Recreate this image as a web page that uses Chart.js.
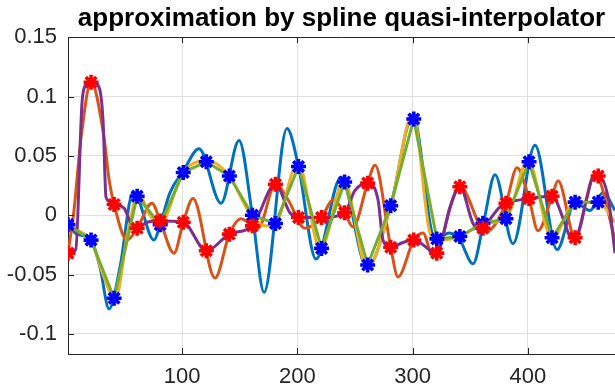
<!DOCTYPE html>
<html>
<head>
<meta charset="utf-8">
<script src="https://cdn.jsdelivr.net/npm/chart.js@4.4.1/dist/chart.umd.min.js"></script>
<style>
html,body{margin:0;padding:0;background:#fff;overflow:hidden;}
canvas{display:block;}
</style>
</head>
<body>
<canvas id="c" width="615" height="387"></canvas>
<script>
// ---- data ----
const titleText = 'approximation by spline quasi-interpolator';
const xTicks = [100, 200, 300, 400];
const yTicks = [-0.1, -0.05, 0, 0.05, 0.1, 0.15];

// sample positions of the markers
const markerX = [1, 21, 41, 61, 81, 101, 121, 141, 161, 181, 201, 221, 241, 261, 281, 301, 321, 341, 361, 381, 401, 421, 441, 461];
// blue asterisks (also the vertices of the green polyline)
const blueMarkers = [-0.008, -0.021, -0.070, 0.016, -0.008, 0.036, 0.045, 0.033, 0.000, -0.007, 0.041, -0.028,
                     0.028, -0.042, 0.008, 0.081, -0.020, -0.018, -0.007, -0.003, 0.045, -0.019, 0.011, 0.011];
// red asterisks
const redMarkers = [-0.032, 0.112, 0.009, -0.011, -0.005, -0.006, -0.030, -0.016, -0.009, 0.026, -0.002, -0.002,
                    0.002, 0.027, -0.027, -0.021, -0.032, 0.024, -0.011, 0.010, 0.014, 0.016, -0.019, 0.033];

// blue smooth curve
const blueCurveX = [1, 8.8, 21, 28.8, 36.6, 46.1, 57.4, 61, 75.6, 81, 89.5, 101, 114.7, 133.8, 149.4, 161, 171.1, 191.0, 201,
                    216.2, 237.9, 241, 260.5, 281, 300.3, 316.8, 321, 331.6, 341, 352.4, 362, 371.5, 387.1, 406.2, 425.3,
                    441, 453.9, 465.2, 475.6];
const blueCurveY = [-0.008, -0.016, -0.021, -0.044, -0.079, -0.044, 0.019, 0.016, -0.021, -0.008, 0.019, 0.037, 0.056, 0.010,
                    0.063, 0.000, -0.065, 0.073, 0.041, -0.037, 0.032, 0.028, -0.044, 0.008, 0.084, -0.015, -0.020, -0.015,
                    -0.021, -0.041, -0.004, 0.034, -0.024, 0.059, -0.029, 0.011, 0.004, 0.019, 0.004];

// orange smooth curve
const orangeCurveX = [1, 6.2, 12.3, 21, 32.2, 36.6, 41, 52.2, 61, 73.9, 81, 93, 101, 109.5, 128.5, 141, 151.1, 161, 165.9,
                      181, 191.9, 206.6, 221, 230.9, 241, 248.3, 261, 267.4, 281, 287.3, 301, 309, 317.7, 321, 341, 363.5,
                      381, 390.6, 401, 408.8, 421, 426.2, 441, 458.3, 461, 475.6];
const orangeCurveY = [-0.032, 0.004, 0.065, 0.112, 0.066, 0.030, 0.009, -0.021, -0.011, 0.010, -0.005, -0.032, -0.006, 0.014,
                      -0.053, -0.016, -0.003, -0.009, -0.011, 0.026, 0.013, -0.011, -0.002, 0.013, 0.002, -0.010, 0.027,
                      0.042, -0.027, -0.052, -0.021, -0.015, -0.035, -0.032, 0.024, -0.014, 0.010, 0.040, 0.014, -0.013,
                      0.016, 0.029, -0.019, 0.035, 0.033, -0.021];

// yellow smooth curve
const yellowCurveX = [1, 11.4, 21, 31.4, 42, 53.1, 62, 72.1, 80, 101, 121, 141, 157.2, 161, 171.1, 181, 200.6, 220, 240.5,
                      260.5, 281, 300.3, 315.1, 322, 341, 361, 381, 400.1, 421, 441, 461, 475.6];
const yellowCurveY = [-0.008, -0.014, -0.021, -0.050, -0.071, -0.013, 0.018, 0.000, -0.009, 0.036, 0.046, 0.033, 0.004, 0.000,
                      -0.009, -0.007, 0.044, -0.029, 0.029, -0.044, 0.008, 0.085, -0.015, -0.021, -0.018, -0.007, -0.003,
                      0.046, -0.020, 0.011, 0.011, -0.006];

// purple smooth curve
const purpleCurveX = [1, 7.7, 13.1, 15.8, 21, 27.9, 31.4, 34.0, 38.3, 41, 49.6, 55.7, 61, 69.5, 81, 101, 121, 141, 161, 181,
                      193.6, 201, 221, 241, 250, 261, 270, 274.3, 281, 291.7, 301, 321, 332.5, 341, 352.4, 358.5, 361,
                      375.8, 381, 401, 421, 432.2, 436.6, 441, 451.3, 456.5, 461, 469.6, 475.6];
const purpleCurveY = [-0.032, -0.029, 0.094, 0.109, 0.113, 0.108, 0.080, 0.015, 0.011, 0.009, 0.006, -0.007, -0.011, -0.006,
                      -0.005, -0.006, -0.030, -0.016, -0.009, 0.026, 0.002, -0.002, -0.002, 0.002, 0.021, 0.027, 0.013,
                      -0.021, -0.027, -0.023, -0.021, -0.032, 0.007, 0.024, -0.007, -0.013, -0.011, 0.007, 0.010, 0.014,
                      0.016, -0.007, -0.018, -0.019, 0.015, 0.032, 0.033, 0.015, -0.032];

const xMin = 1, xMax = 475.6, yMin = -0.117, yMax = 0.15;

// ---- helpers ----
const pts = (xs, ys) => xs.map((x, i) => ({x: x, y: ys[i]}));

const frame = {
  id: 'frame',
  afterDatasetsDraw(chart) {
    const {ctx, chartArea: a, scales} = chart;
    const sx = scales.x, sy = scales.y;
    ctx.save();
    ctx.strokeStyle = '#262626';
    ctx.lineWidth = 1;
    ctx.beginPath();
    const top = Math.round(a.top) + 0.5;
    ctx.moveTo(a.left, top); ctx.lineTo(a.right, top);
    xTicks.forEach(v => {
      const p = Math.round(sx.getPixelForValue(v)) + 0.5;
      ctx.moveTo(p, a.bottom); ctx.lineTo(p, a.bottom - 6);
      ctx.moveTo(p, a.top); ctx.lineTo(p, a.top + 6);
    });
    yTicks.forEach(v => {
      const p = Math.round(sy.getPixelForValue(v)) + 0.5;
      ctx.moveTo(a.left, p); ctx.lineTo(a.left + 6, p);
    });
    ctx.stroke();
    ctx.restore();
  }
};

const lineDs = (label, xs, ys, color, order, mono) => ({
  label: label,
  data: pts(xs, ys),
  borderColor: color,
  backgroundColor: color,
  borderWidth: 3,
  pointRadius: 0,
  fill: false,
  cubicInterpolationMode: mono ? 'monotone' : 'default',
  tension: 0,
  order: order
});

const markerDs = (label, ys, color, order) => ({
  label: label,
  data: pts(markerX, ys),
  showLine: false,
  borderColor: color,
  backgroundColor: color,
  pointStyle: 'star',
  pointRadius: 7.5,
  pointBorderWidth: 3.6,
  order: order
});

new Chart(document.getElementById('c'), {
  type: 'line',
  data: {
    datasets: [
      markerDs('red samples', redMarkers, '#ff0000', 0),
      markerDs('blue samples', blueMarkers, '#0000ff', 1),
      lineDs('linear', markerX, blueMarkers, '#77AC30', 2, false),
      lineDs('purple', purpleCurveX, purpleCurveY, '#7E2F8E', 3, true),
      lineDs('yellow', yellowCurveX, yellowCurveY, '#EDB120', 4, true),
      lineDs('orange', orangeCurveX, orangeCurveY, '#D95319', 5, true),
      lineDs('blue', blueCurveX, blueCurveY, '#0072BD', 6, true)
    ]
  },
  plugins: [frame],
  options: {
    responsive: false,
    devicePixelRatio: 1,
    animation: false,
    layout: { padding: 0, autoPadding: false },
    plugins: {
      legend: { display: false },
      tooltip: { enabled: false },
      title: {
        display: true,
        text: titleText,
        fullSize: false,
        color: '#000',
        font: { family: "'Liberation Sans', Arial, sans-serif", size: 26, weight: 'bold', lineHeight: 1.2 },
        padding: { top: 3, bottom: 3 }
      }
    },
    scales: {
      x: {
        type: 'linear',
        min: xMin, max: xMax,
        afterBuildTicks: s => { s.ticks = xTicks.map(v => ({value: v})); },
        afterFit: s => { s.height = 33; s.paddingLeft = 0; s.paddingRight = 0; },
        grid: { color: '#dfdfdf', lineWidth: 1, drawTicks: false },
        border: { display: true, color: '#262626', width: 1 },
        ticks: {
          padding: 10,
          color: '#262626',
          font: { family: "'Liberation Sans', Arial, sans-serif", size: 22 },
          callback: v => String(v),
          maxRotation: 0
        }
      },
      y: {
        type: 'linear',
        min: yMin, max: yMax,
        afterBuildTicks: s => { s.ticks = yTicks.map(v => ({value: v})); },
        afterFit: s => { s.width = 68; s.paddingTop = 0; s.paddingBottom = 0; },
        grid: { color: '#dfdfdf', lineWidth: 1, drawTicks: false },
        border: { display: true, color: '#262626', width: 1 },
        ticks: {
          padding: 11,
          color: '#262626',
          font: { family: "'Liberation Sans', Arial, sans-serif", size: 22 },
          callback: v => String(Math.round(v * 100) / 100)
        }
      }
    }
  }
});
</script>
</body>
</html>
